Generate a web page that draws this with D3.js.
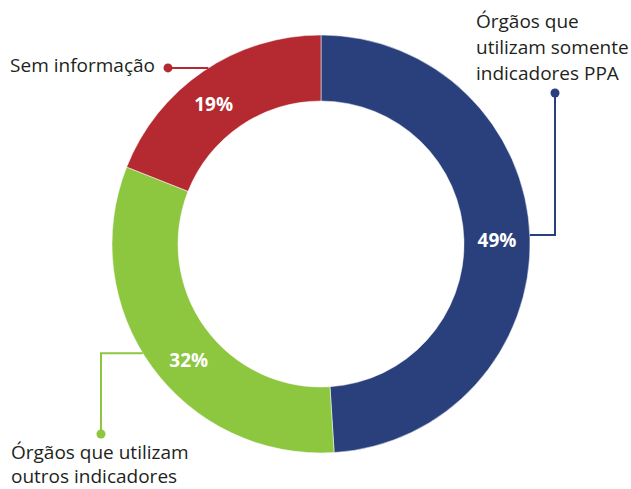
<!DOCTYPE html>
<html lang="pt">
<head>
<meta charset="utf-8">
<script src="https://d3js.org/d3.v7.min.js"></script>
<style>
    body { margin: 0; background: #fff; }
    text { font-family: 'Open Sans', sans-serif; }
    .label { fill: #231f20; font-size: 19px; }
    .pct { fill: #fff; font-size: 19px; font-weight: bold; }
</style>
</head>
<body>
<svg width="631" height="489"></svg>
<script>
    // chart data
    var categories = ["Órgãos que utilizam somente indicadores PPA", "Órgãos que utilizam outros indicadores", "Sem informação"];
    var values = [49, 32, 19];
    var colors = ["#29407c", "#8dc63f", "#b52a31"];
    var labelLines = [
        ["Órgãos que", "utilizam somente", "indicadores PPA"],
        ["Órgãos que utilizam", "outros indicadores"],
        ["Sem informação"]
    ];

    var svg = d3.select("svg"),
        cx = 321, cy = 244,
        outerR = 209, innerR = 143,
        g = svg.append("g").attr("transform", "translate(" + cx + "," + cy + ")");

    var pie = d3.pie().sort(null).value(function(d) { return d; });
    var arc = d3.arc().innerRadius(innerR).outerRadius(outerR);
    var arcs = pie(values);

    g.selectAll(".slice")
        .data(arcs)
        .enter().append("path")
        .attr("class", "slice")
        .attr("d", arc)
        .attr("fill", function(d, i) { return colors[i]; })
        .attr("stroke", "#fff")
        .attr("stroke-width", 0.5);

    // percent labels, nudged a little from the centroid
    var nudge = [0.5, -5.3, -3.4];
    var midR = (innerR + outerR) / 2;
    g.selectAll(".pct")
        .data(arcs)
        .enter().append("text")
        .attr("class", "pct")
        .attr("text-anchor", "middle")
        .attr("dy", "0.35em")
        .attr("x", function(d, i) {
            var a = (d.startAngle + d.endAngle) / 2 + nudge[i] * Math.PI / 180;
            return midR * Math.sin(a);
        })
        .attr("y", function(d, i) {
            var a = (d.startAngle + d.endAngle) / 2 + nudge[i] * Math.PI / 180;
            return -midR * Math.cos(a);
        })
        .text(function(d) { return d.data + "%"; });

    // leader lines: point on the outer edge -> elbow -> dot
    function edge(deg) {
        var a = deg * Math.PI / 180;
        return [cx + outerR * Math.sin(a), cy - outerR * Math.cos(a)];
    }
    var bEdge = edge(87.5), gEdge = edge(238.5), rEdge = edge(327.4);
    var leaders = [
        [bEdge, [555, bEdge[1]], [555, 93]],
        [gEdge, [101, gEdge[1]], [101, 434]],
        [rEdge, [168, rEdge[1]]]
    ];

    leaders.forEach(function(pts, i) {
        svg.append("path")
            .attr("d", d3.line()(pts))
            .attr("fill", "none")
            .attr("stroke", colors[i])
            .attr("stroke-width", 2);
        var end = pts[pts.length - 1];
        svg.append("circle")
            .attr("cx", end[0]).attr("cy", end[1]).attr("r", 4.5)
            .attr("fill", colors[i]);
    });

    // category labels
    var labelPos = [
        {x: 476, y: 28, anchor: "start", lh: 26},
        {x: 11, y: 459, anchor: "start", lh: 24},
        {x: 155, y: 72, anchor: "end", lh: 24}
    ];
    labelLines.forEach(function(lines, i) {
        var t = svg.append("text")
            .attr("class", "label")
            .attr("text-anchor", labelPos[i].anchor);
        lines.forEach(function(line, j) {
            t.append("tspan")
                .attr("x", labelPos[i].x)
                .attr("y", labelPos[i].y + j * labelPos[i].lh)
                .text(line);
        });
    });
</script>
</body>
</html>
